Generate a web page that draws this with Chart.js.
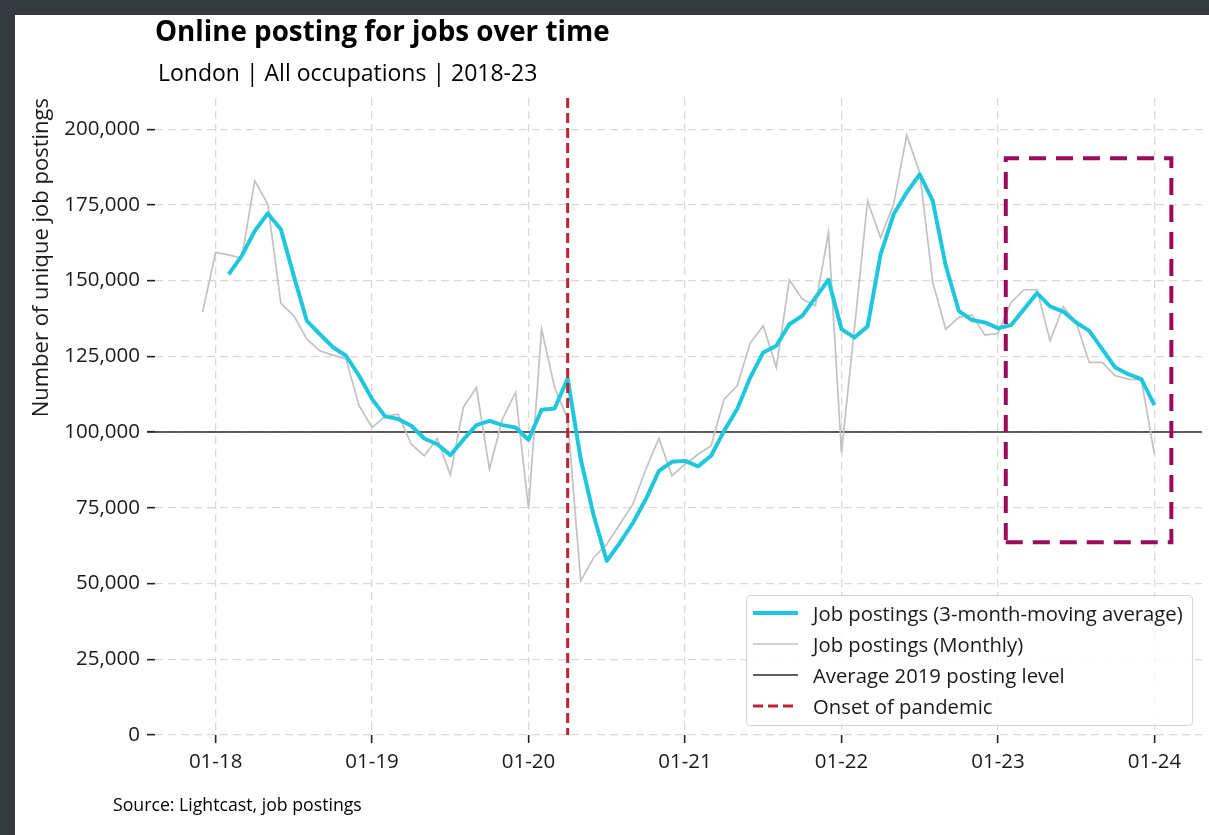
<!DOCTYPE html>
<html>
<head>
<meta charset="utf-8">
<script src="https://cdn.jsdelivr.net/npm/chart.js@4.4.0/dist/chart.umd.min.js"></script>
<style>
  html, body { margin:0; padding:0; width:1209px; height:835px; overflow:hidden; background:#343a40; }
  #panel { position:absolute; left:15px; top:15px; width:1194px; height:820px; background:#ffffff; }
  #chart { position:absolute; left:0; top:0; }
  .txt { position:absolute; white-space:nowrap; font-family:"Open Sans", sans-serif; line-height:1; color:#000; }
  #legend { position:absolute; left:731px; top:580px; width:445px; height:129px;
            border:1px solid #d4d4d4; border-radius:4px; background:rgba(255,255,255,0.82); }
  .lg-row { position:absolute; left:0; height:31px; width:100%; }
  .lg-row svg { position:absolute; left:6px; top:0; }
  .lg-row span { position:absolute; left:66px; font-family:"Open Sans", sans-serif; font-size:20.3px; line-height:1; color:#1a1a1a; white-space:nowrap; }
</style>
</head>
<body>
<div id="panel">
  <canvas id="chart" width="1194" height="820"></canvas>
  <div id="title" class="txt" style="font-weight:700;">Online posting for jobs over time</div>
  <div id="subtitle" class="txt">London | All occupations | 2018-23</div>
  <div id="source" class="txt">Source: Lightcast, job postings</div>
  <div id="legend"></div>
</div>
<script>
// ---------------- DATA ----------------
const months = [
  '2017-12',
  '2018-01','2018-02','2018-03','2018-04','2018-05','2018-06','2018-07','2018-08','2018-09','2018-10','2018-11','2018-12',
  '2019-01','2019-02','2019-03','2019-04','2019-05','2019-06','2019-07','2019-08','2019-09','2019-10','2019-11','2019-12',
  '2020-01','2020-02','2020-03','2020-04','2020-05','2020-06','2020-07','2020-08','2020-09','2020-10','2020-11','2020-12',
  '2021-01','2021-02','2021-03','2021-04','2021-05','2021-06','2021-07','2021-08','2021-09','2021-10','2021-11','2021-12',
  '2022-01','2022-02','2022-03','2022-04','2022-05','2022-06','2022-07','2022-08','2022-09','2022-10','2022-11','2022-12',
  '2023-01','2023-02','2023-03','2023-04','2023-05','2023-06','2023-07','2023-08','2023-09','2023-10','2023-11','2023-12',
  '2024-01'
];

const monthlyPostings = [
  139600,
  159300,158500,157400,183000,175200,142600,138400,130700,126800,125400,124100,108700,
  101500,105200,105900, 96000, 92200, 97900, 85800,108200,114700, 87800,104300,113100,
   74600,134000,114700,104300, 50900, 58600, 63000, 69600, 76200, 87800, 97900, 85600,
   89400, 92700, 95500,110900,115300,129400,135100,121300,150300,143900,141700,165900,
   93300,134400,176300,164200,175200,198000,185700,149400,134000,137900,138700,132000,
  132600,142800,147000,147000,130100,141400,136200,123000,123000,118600,117500,117200,
   92700
];

const movingAverage3m = [
  null,
  null,152100,158200,166400,172200,167000,151500,136700,132300,128000,125200,118600,
  110900,105200,104300,102100, 97900, 96000, 92400, 97500,102300,103700,102300,101500,
   97500,107400,107800,117700, 91100, 72400, 57500, 63400, 70000, 77900, 87200, 90200,
   90500, 88700, 92200,100400,107600,118000,126300,128500,135600,138400,144400,150300,
  134000,131200,134900,158700,171900,179100,185100,176300,154900,140000,137000,136200,
  134300,135300,140600,145900,141500,139800,136200,133400,127400,121300,119100,117500,
  108900
];

const xTickMonths = ['2018-01','2019-01','2020-01','2021-01','2022-01','2023-01','2024-01'];
const xTickLabels = ['01-18','01-19','01-20','01-21','01-22','01-23','01-24'];
const yTickValues = [0, 25000, 50000, 75000, 100000, 125000, 150000, 175000, 200000];

const avg2019Level = 100000;
const pandemicOnsetMonth = '2020-04';
// highlighted period (month index relative to Jan 2018, postings)
const highlightMonths = [60.6, 73.3];
const highlightPostings = [63600, 190400];

const seriesLabels = [
  'Job postings (3-month-moving average)',
  'Job postings (Monthly)',
  'Average 2019 posting level',
  'Onset of pandemic'
];

// ---------------- HELPERS ----------------
function monthIndex(m) {
  const [y, mo] = m.split('-').map(Number);
  return (y - 2018) * 12 + (mo - 1);
}

const COL_MA = '#1fc7dd';
const COL_MONTHLY = '#c2c2c2';
const COL_AVG = '#2b2b2b';
const COL_ONSET = '#bd2430';
const COL_BOX = '#9c0a5c';

Chart.defaults.font.family = "'Open Sans', sans-serif";
Chart.defaults.color = '#1a1a1a';

const refLines = {
  id: 'refLines',
  beforeDatasetsDraw(chart) {
    const {ctx, chartArea, scales} = chart;
    const y = scales.y.getPixelForValue(avg2019Level);
    ctx.save();
    ctx.strokeStyle = COL_AVG;
    ctx.lineWidth = 1.5;
    ctx.beginPath();
    ctx.moveTo(chartArea.left - 8, y);
    ctx.lineTo(chartArea.right, y);
    ctx.stroke();
    ctx.restore();
  },
  afterDatasetsDraw(chart) {
    const {ctx, chartArea, scales} = chart;
    ctx.save();
    // onset of pandemic
    const xo = scales.x.getPixelForValue(monthIndex(pandemicOnsetMonth));
    ctx.strokeStyle = COL_ONSET;
    ctx.lineWidth = 3;
    ctx.setLineDash([10, 5]);
    ctx.beginPath();
    ctx.moveTo(xo, chartArea.top);
    ctx.lineTo(xo, chartArea.bottom);
    ctx.stroke();
    // highlight box
    const l = scales.x.getPixelForValue(highlightMonths[0]);
    const r = scales.x.getPixelForValue(highlightMonths[1]);
    const b = scales.y.getPixelForValue(highlightPostings[0]);
    const t = scales.y.getPixelForValue(highlightPostings[1]);
    ctx.strokeStyle = COL_BOX;
    ctx.lineWidth = 4;
    ctx.setLineDash([17, 10]);
    ctx.beginPath();
    ctx.moveTo(l, b);
    ctx.lineTo(r, b);
    ctx.lineTo(r, t);
    ctx.lineTo(l, t);
    ctx.closePath();
    ctx.stroke();
    ctx.restore();
  }
};

const gridCommon = {
  color: '#d9d9d9',
  lineWidth: 1.3,
  tickLength: 8,
  tickColor: '#222',
  tickWidth: 1.6,
  tickBorderDash: []
};

new Chart(document.getElementById('chart'), {
  type: 'line',
  data: {
    datasets: [
      {
        label: seriesLabels[0],
        data: months.map((m, i) => ({x: monthIndex(m), y: movingAverage3m[i]})),
        borderColor: COL_MA,
        borderWidth: 4,
        pointRadius: 0,
        borderJoinStyle: 'round',
        spanGaps: false,
        order: 0
      },
      {
        label: seriesLabels[1],
        data: months.map((m, i) => ({x: monthIndex(m), y: monthlyPostings[i]})),
        borderColor: COL_MONTHLY,
        borderWidth: 1.7,
        pointRadius: 0,
        order: 1
      }
    ]
  },
  options: {
    responsive: false,
    animation: false,
    devicePixelRatio: 1,
    layout: { padding: { top: 83, left: 0, right: 7, bottom: 0 } },
    plugins: {
      legend: { display: false },
      title: { display: false },
      tooltip: { enabled: false }
    },
    scales: {
      x: {
        type: 'linear',
        min: -4.65,
        max: 75.65,
        afterBuildTicks: (s) => { s.ticks = xTickMonths.map(m => ({value: monthIndex(m)})); },
        afterFit: (s) => { s.height = 100; },
        ticks: {
          autoSkip: false,
          maxRotation: 0,
          padding: 7,
          color: '#1a1a1a',
          font: { size: 20.5 },
          callback: (v) => {
            const k = xTickMonths.findIndex(m => monthIndex(m) === v);
            return k >= 0 ? xTickLabels[k] : '';
          }
        },
        grid: gridCommon,
        border: { display: false, dash: [8, 5] }
      },
      y: {
        min: 0,
        max: 210300,
        afterBuildTicks: (s) => { s.ticks = yTickValues.map(v => ({value: v})); },
        afterFit: (s) => { s.width = 140; },
        ticks: {
          padding: 7,
          color: '#1a1a1a',
          font: { size: 20.5 },
          callback: (v) => Number(v).toLocaleString('en-US')
        },
        grid: gridCommon,
        border: { display: false, dash: [8, 5] },
        title: {
          display: true,
          text: 'Number of unique job postings',
          align: 'end',
          color: '#1a1a1a',
          font: { size: 22 },
          padding: { top: 14, bottom: 0 }
        }
      }
    }
  },
  plugins: [refLines]
});

// ---------------- TEXT & LEGEND ----------------
function placeText(id, left, baseline, size) {
  const el = document.getElementById(id);
  el.style.fontSize = size + 'px';
  el.style.left = left + 'px';
  el.style.top = (baseline - 0.888 * size) + 'px';
}
placeText('title', 140, 27, 27.75);
placeText('subtitle', 143, 66, 23);
placeText('source', 98, 797, 17.7);

const legendStyles = [
  {color: COL_MA, width: 4, dash: ''},
  {color: COL_MONTHLY, width: 1.7, dash: ''},
  {color: COL_AVG, width: 1.5, dash: ''},
  {color: COL_ONSET, width: 3, dash: '10,5'}
];
const lg = document.getElementById('legend');
seriesLabels.forEach((label, i) => {
  const row = document.createElement('div');
  row.className = 'lg-row';
  row.style.top = (1 + i * 31) + 'px';
  const st = legendStyles[i];
  row.innerHTML =
    '<svg width="46" height="31"><line x1="0" y1="16" x2="45" y2="16" stroke="' + st.color +
    '" stroke-width="' + st.width + '"' + (st.dash ? ' stroke-dasharray="' + st.dash + '"' : '') + '/></svg>' +
    '<span style="top:' + (24 - 0.888 * 20.3) + 'px">' + label + '</span>';
  lg.appendChild(row);
});
</script>
</body>
</html>
